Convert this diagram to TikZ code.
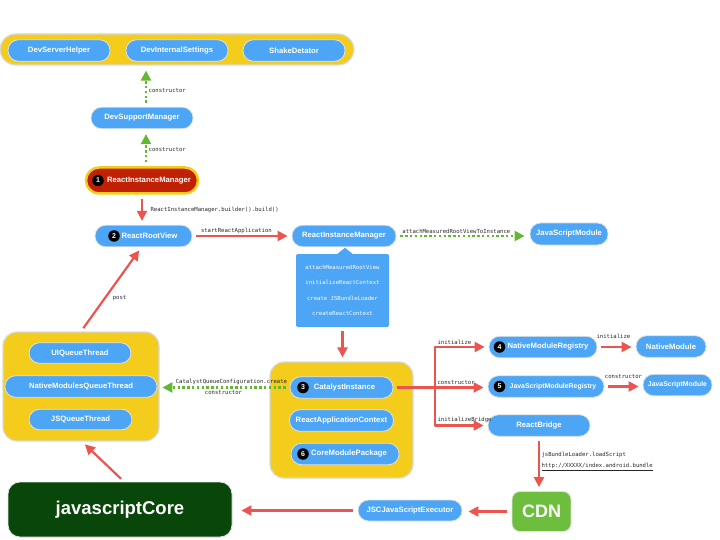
\documentclass[tikz,border=0pt]{standalone}
\usepackage{fontspec}
\setmainfont{Liberation Sans}
\setmonofont{DejaVu Sans Mono}
\usepackage{tikz}
\usetikzlibrary{arrows.meta}
\definecolor{pillblue}{RGB}{77,165,245}
\definecolor{bandyellow}{RGB}{244,204,27}
\definecolor{rimred}{RGB}{192,32,4}
\definecolor{arrowred}{RGB}{236,84,80}
\definecolor{dotgreen}{RGB}{98,184,48}
\definecolor{cdngreen}{RGB}{108,190,60}
\definecolor{coregreen}{RGB}{8,70,10}
\tikzset{
  pill/.style={rectangle,rounded corners=10.5pt,fill=pillblue,draw=black!12,line width=0.8pt,text=white,font=\bfseries\fontsize{7.7}{9}\selectfont,minimum height=21.5pt,inner sep=0pt},
  smallpill/.style={pill,font=\bfseries\fontsize{6.9}{8}\selectfont},
  band/.style={rectangle,fill=bandyellow,draw=black!15,line width=1.2pt},
  num/.style={circle,fill=black,text=white,font=\bfseries\fontsize{7}{7}\selectfont,minimum size=11.5pt,inner sep=0pt},
  lbl/.style={font=\ttfamily\fontsize{5.6}{6}\selectfont,text=black!85,inner sep=1.5pt},
  redarr/.style={->,line width=2.2pt,draw=arrowred,shorten >=4pt,shorten <=4pt},
  greenarr/.style={->,line width=2.4pt,draw=dotgreen,dash pattern=on 2.4pt off 2.4pt,shorten >=5pt,shorten <=4pt}
}
\begin{document}
\begin{tikzpicture}[line join=round,>={Triangle[length=10pt,width=10pt]},x=1pt,y=-1pt]
  \useasboundingbox (0,0) rectangle (720,540);

  \node[band,rounded corners=16pt,minimum width=354pt,minimum height=31pt] (devband) at (177,49.5) {};
  \node[pill,minimum width=102pt] (dsh) at (59,50.5) {DevServerHelper};
  \node[pill,minimum width=102pt] (dis) at (177,50.5) {DevInternalSettings};
  \node[pill,minimum width=102pt] (sdt) at (294,50.5) {ShakeDetator};

  \node[pill,minimum width=102pt] (dsm) at (142,118) {DevSupportManager};
  \node[pill,fill=rimred,draw=bandyellow,line width=2.5pt,rounded corners=13pt,minimum width=112pt,minimum height=26pt] (rim) at (142,180.5) {\hspace*{14pt}ReactInstanceManager};
  \node[num] (n1) at (98,180.5) {1};

  \draw[greenarr] ([xshift=4pt]dsm.north) -- ([xshift=4pt]dsm.north |- devband.south)
    node[lbl,anchor=west,pos=0.4] {constructor};
  \draw[greenarr] ([xshift=4pt]rim.north) -- ([xshift=4pt]rim.north |- dsm.south)
    node[lbl,anchor=west,pos=0.45] {constructor};

  \node[pill,minimum width=97pt] (rrv) at (143.5,236) {\hspace*{12pt}ReactRootView};
  \node[num] (n2) at (114,236) {2};
  \node[pill,minimum width=104pt] (rimb) at (344,236) {ReactInstanceManager};
  \node[pill,minimum width=78pt,minimum height=22pt] (jsm1) at (569,234) {JavaScriptModule};

  \draw[redarr] (rim.south) -- (rim.south |- rrv.north)
    node[lbl,anchor=west,pos=0.5,xshift=6pt] {ReactInstanceManager.builder().build()};
  \draw[redarr] (rrv) -- (rimb)
    node[lbl,anchor=south west,pos=0,xshift=6pt] {startReactApplication};
  \draw[greenarr] (rimb.east) -- (rimb.east -| jsm1.west)
    node[lbl,above,pos=0.45] {attachMeasuredRootViewToInstance};

  \node[fill=pillblue,rounded corners=2pt,minimum width=93pt,minimum height=73pt,text=white,font=\ttfamily\fontsize{5.6}{15.3}\selectfont,align=center] (calls) at (342.5,290.5)
    {attachMeasuredRootView\\initializeReactContext\\create JSBundleLoader\\createReactContext};
  \fill[pillblue] ([xshift=-5pt]calls.north) -- ([xshift=2.5pt,yshift=6pt]calls.north) -- ([xshift=10pt]calls.north) -- cycle;

  \node[band,rounded corners=14pt,minimum width=156pt,minimum height=109pt] (qbox) at (81,386.5) {};
  \node[pill,minimum width=102pt,minimum height=20.5pt] (uiq) at (80,353) {UIQueueThread};
  \node[pill,minimum width=152pt] (nmq) at (81,386.5) {NativeModulesQueueThread};
  \node[pill,minimum width=103pt,minimum height=20.5pt] (jsq) at (80.5,419.5) {JSQueueThread};

  \node[band,rounded corners=14pt,minimum width=143pt,minimum height=116pt] (cibox) at (341.5,420) {};
  \node[pill,minimum width=103pt] (ci) at (341.5,387.5) {\hspace*{6pt}CatalystInstance};
  \node[num] (n3) at (303,387.5) {3};
  \node[pill,minimum width=104pt] (rac) at (341.5,420.5) {ReactApplicationContext};
  \node[pill,minimum width=108pt] (cmp) at (345,454) {\hspace*{8pt}CoreModulePackage};
  \node[num] (n6) at (303,454) {6};

  \draw[redarr] (calls.south) -- (calls.south |- cibox.north);
  \draw[greenarr] (ci.west) -- (ci.west -| nmq.east)
    node[lbl,above,pos=0.44] {CatalystQueueConfiguration.create}
    node[lbl,below,pos=0.5] {constructor};
  \draw[redarr] (qbox.north) -- ([xshift=-2pt]rrv.south)
    node[lbl,anchor=west,pos=0.4,xshift=5pt] {post};

  \node[pill,minimum width=108pt] (nmr) at (543,347) {\hspace*{10pt}NativeModuleRegistry};
  \node[num] (n4) at (499.5,347) {4};
  \node[smallpill,minimum width=116pt] (jsr) at (546,386.5) {\hspace*{14pt}JavaScriptModuleRegistry};
  \node[num] (n5) at (499.5,386.5) {5};
  \node[pill,minimum width=102pt] (rb) at (539,425.5) {ReactBridge};
  \node[pill,minimum width=70pt] (nm) at (671,346.5) {NativeModule};
  \node[smallpill,minimum width=69pt] (jsm2) at (677.5,385) {JavaScriptModule};

  \coordinate (fork) at (435,387.5);
  \draw[redarr] (ci.east) -- (fork) node[lbl,anchor=south west] {constructor} -- (ci.east -| jsr.west);
  \draw[redarr,shorten <=0pt] (fork) |- (nmr.west)
    node[lbl,anchor=south west,pos=0.5] {initialize};
  \draw[redarr,shorten <=0pt] (fork) |- (rb.west)
    node[lbl,anchor=south west,pos=0.5] {initializeBridge};
  \draw[redarr] (nmr.east) -- (nmr.east -| nm.west)
    node[lbl,anchor=south,pos=0.42,yshift=6pt] {initialize};
  \draw[redarr] (jsr.east) -- (jsr.east -| jsm2.west)
    node[lbl,anchor=south,pos=0.5,yshift=5pt] {constructor};

  \node[rectangle,rounded corners=8pt,fill=cdngreen,draw=black!12,line width=0.8pt,minimum width=59pt,minimum height=40pt,text=white,font=\bfseries\fontsize{18}{20}\selectfont] (cdn) at (541.5,511.5) {CDN};
  \node[pill,minimum width=104pt,minimum height=21pt] (jsc) at (410,510.5) {JSCJavaScriptExecutor};
  \node[rectangle,rounded corners=12pt,fill=coregreen,draw=black!12,line width=0.8pt,minimum width=224pt,minimum height=55pt,text=white,font=\bfseries\fontsize{18.5}{20}\selectfont] (jscore) at (120,509.5) {javascriptCore};

  \draw[redarr] (rb.south) -- (rb.south |- cdn.north)
    node[lbl,anchor=west,pos=0.45,align=left,font=\ttfamily\fontsize{5.6}{11}\selectfont] {jsBundleLoader.loadScript\\\underline{http://XXXXX/index.android.bundle}};
  \draw[redarr,shorten <=5pt,shorten >=6pt] (cdn.west) -- (cdn.west -| jsc.east);
  \draw[redarr,shorten <=5pt,shorten >=9pt] (jsc.west) -- (jsc.west -| jscore.east);
  \draw[redarr] ([xshift=4pt]jscore.north) -- ([xshift=1pt]qbox.south);
\end{tikzpicture}
\end{document}
